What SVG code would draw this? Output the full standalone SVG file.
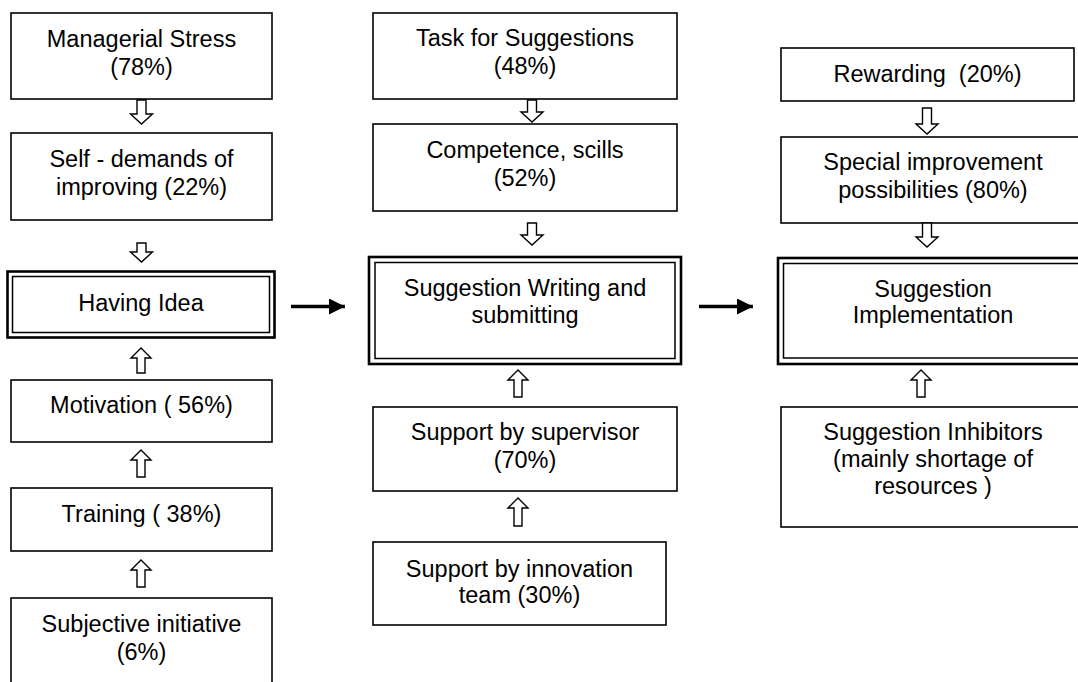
<svg xmlns="http://www.w3.org/2000/svg" width="1078" height="682" viewBox="0 0 1078 682">
<style>
.box{fill:#fff;stroke:#000;stroke-width:1.6}
.outer{fill:#fff;stroke:#000;stroke-width:2.6}
.inner{fill:none;stroke:#000;stroke-width:1.5}
.blk{fill:#fff;stroke:#000;stroke-width:1.4;stroke-linejoin:miter}
text{font-family:"Liberation Sans",Arial,sans-serif;font-size:23.5px;fill:#000;text-anchor:middle}
.ln{stroke:#000;stroke-width:3.4;fill:none}
</style>
<defs>
<marker id="ah" markerUnits="userSpaceOnUse" markerWidth="18" markerHeight="18" refX="16" refY="8" orient="auto">
<path d="M0,0 L16,8 L0,16 Z" fill="#000"/>
</marker>
</defs>
<rect width="1078" height="682" fill="#fff"/>

<g id="managerial-stress"><rect class="box" x="11" y="13" width="261" height="86"/><text x="141.5" y="47">Managerial Stress</text><text x="141.5" y="75">(78%)</text></g>
<g id="self-demands"><rect class="box" x="11" y="133" width="261" height="87"/><text x="141.5" y="167">Self - demands of</text><text x="141.5" y="195">improving (22%)</text></g>
<g id="having-idea"><rect class="outer" x="7.5" y="271.5" width="267" height="66"/><rect class="inner" x="12.5" y="276.5" width="257" height="56"/><text x="141" y="311">Having Idea</text></g>
<g id="motivation"><rect class="box" x="11" y="380" width="261" height="62"/><text x="141.5" y="413">Motivation ( 56%)</text></g>
<g id="training"><rect class="box" x="11" y="488" width="261" height="63"/><text x="141.5" y="522">Training ( 38%)</text></g>
<g id="subjective-initiative"><rect class="box" x="11" y="598" width="261" height="100"/><text x="141.5" y="632">Subjective initiative</text><text x="141.5" y="660">(6%)</text></g>

<g id="task-for-suggestions"><rect class="box" x="373" y="13" width="304" height="86"/><text x="525" y="46">Task for Suggestions</text><text x="525" y="74">(48%)</text></g>
<g id="competence"><rect class="box" x="373" y="124" width="304" height="87"/><text x="525" y="158">Competence, scills</text><text x="525" y="186">(52%)</text></g>
<g id="suggestion-writing"><rect class="outer" x="369" y="257" width="312" height="107"/><rect class="inner" x="375" y="262.5" width="300" height="96"/><text x="525" y="296">Suggestion Writing and</text><text x="525" y="323">submitting</text></g>
<g id="support-supervisor"><rect class="box" x="373" y="407" width="304" height="84"/><text x="525" y="440">Support by supervisor</text><text x="525" y="468">(70%)</text></g>
<g id="support-innovation"><rect class="box" x="373" y="542" width="293" height="83"/><text x="519.5" y="577">Support by innovation</text><text x="519.5" y="603">team (30%)</text></g>

<g id="rewarding"><rect class="box" x="781" y="48" width="293" height="53"/><text x="927.5" y="82">Rewarding&#160; (20%)</text></g>
<g id="special-improvement"><rect class="box" x="781" y="137" width="304" height="86"/><text x="933" y="170">Special improvement</text><text x="933" y="198">possibilities (80%)</text></g>
<g id="suggestion-implementation"><rect class="outer" x="778" y="258" width="312" height="106"/><rect class="inner" x="783.5" y="263.5" width="300" height="94.5"/><text x="933" y="297">Suggestion</text><text x="933" y="323">Implementation</text></g>
<g id="suggestion-inhibitors"><rect class="box" x="781" y="407" width="304" height="120"/><text x="933" y="440">Suggestion Inhibitors</text><text x="933" y="467">(mainly shortage of</text><text x="933" y="494">resources )</text></g>

<g id="connectors">
<path class="blk" d="M137,100 H146 V114 H152.5 L141.5,124 L130.5,114 H137 Z"/>
<path class="blk" d="M137,243 H146 V252 H152.5 L141.5,262 L130.5,252 H137 Z"/>
<path class="blk" d="M141,348 L151,358 H145 V373 H137 V358 H131 Z"/>
<path class="blk" d="M141,450 L151,460 H145 V477 H137 V460 H131 Z"/>
<path class="blk" d="M141,560 L151,570 H145 V587 H137 V570 H131 Z"/>
<path class="blk" d="M527.5,100 H536.5 V112 H543 L532,122 L521,112 H527.5 Z"/>
<path class="blk" d="M527.5,223 H536.5 V235 H543 L532,245 L521,235 H527.5 Z"/>
<path class="blk" d="M518,370 L528,380 H522 V397 H514 V380 H508 Z"/>
<path class="blk" d="M518,498 L528,508 H522 V526 H514 V508 H508 Z"/>
<path class="blk" d="M922.5,108 H931.5 V124 H938 L927,134 L916,124 H922.5 Z"/>
<path class="blk" d="M922.5,223 H931.5 V237 H938 L927,247 L916,237 H922.5 Z"/>
<path class="blk" d="M921,370 L931,380 H925 V397 H917 V380 H911 Z"/>
<line class="ln" x1="291" y1="306.5" x2="345" y2="306.5" marker-end="url(#ah)"/>
<line class="ln" x1="699" y1="306.5" x2="753" y2="306.5" marker-end="url(#ah)"/>
</g>
</svg>
